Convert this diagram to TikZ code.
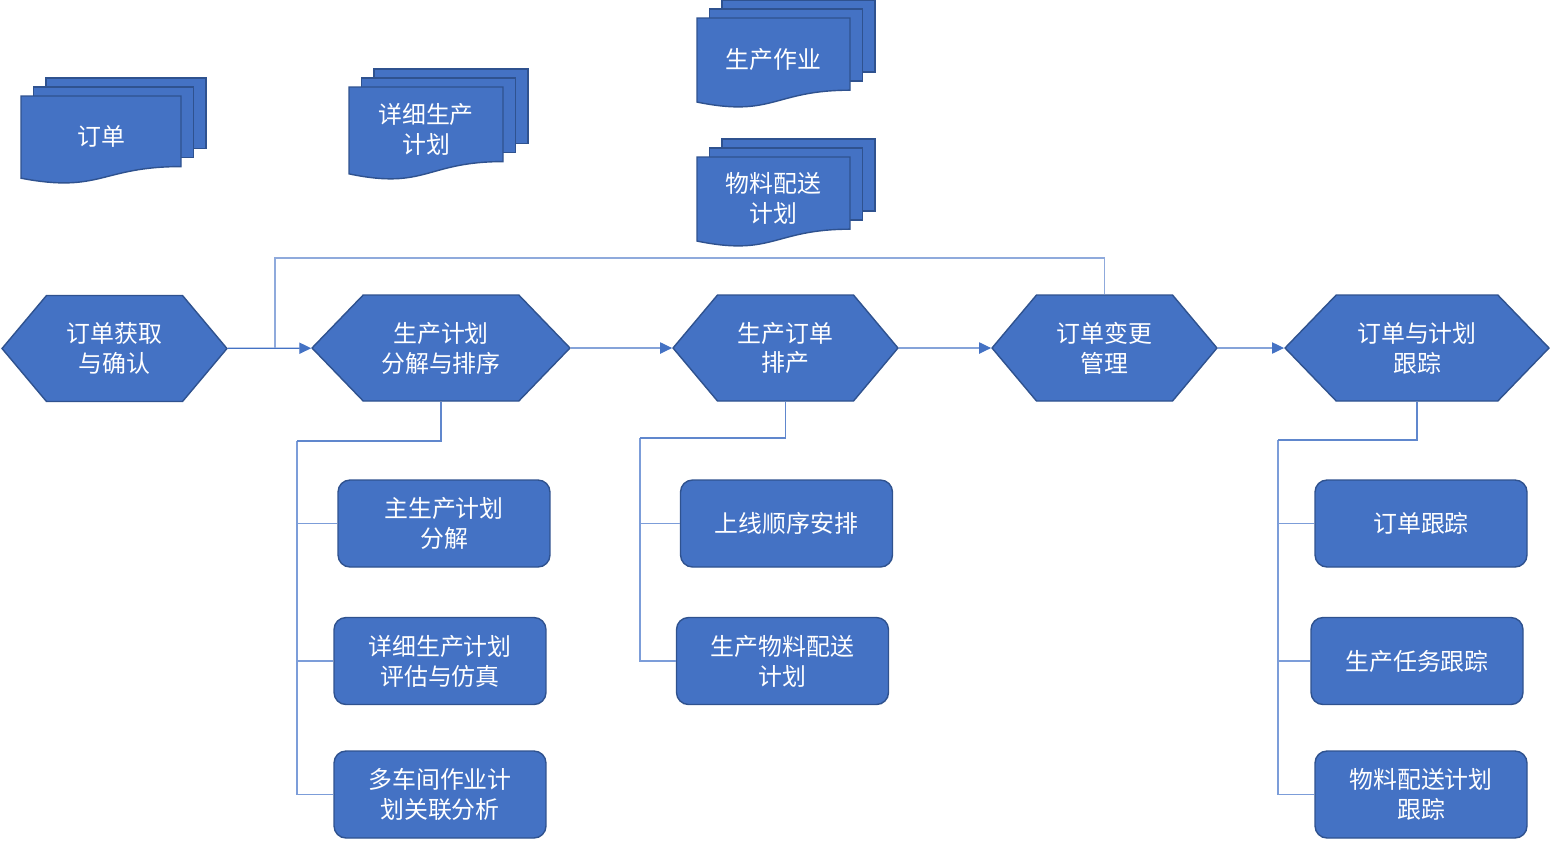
\documentclass[tikz,border=0pt]{standalone}
\usepackage{fontspec}
\setmainfont{Noto Sans CJK SC}
\usetikzlibrary{shapes.symbols,arrows.meta}

\definecolor{boxfill}{HTML}{4472C4}
\definecolor{boxline}{HTML}{2F528F}
\definecolor{treeblue}{HTML}{7C9DD9}
\definecolor{fbblue}{HTML}{8FAADC}

\tikzset{
  txt/.style={text=white, align=center, font=\fontsize{13.6pt}{17pt}\selectfont},
  hexa/.style={signal, signal to=west and east, signal pointer angle=100, draw=boxline, fill=boxfill, line width=0.8pt, txt, inner sep=0pt, minimum width=4.5cm, minimum height=2.12cm},
  task/.style={rectangle, rounded corners=0.24cm, draw=boxline, fill=boxfill, line width=0.8pt, txt, minimum width=4.24cm, minimum height=1.74cm},
  doc/.style={draw=boxline, fill=boxfill, line width=0.8pt},
  flow/.style={draw=boxfill, line width=0.7pt, -{Triangle[length=6.8pt,width=6.4pt]}},
  tree/.style={draw=treeblue, line width=0.8pt},
  treetop/.style={draw=boxfill!85!white, line width=0.8pt},
}

% stacked document: x, y, width, height, name, text
\newcommand{\docstack}[6]{
  \foreach \k in {2,1}{
    \draw[doc] ({#1+12.5*\k},{#2-9*\k}) rectangle ++(#3,{0.8*#4});
  }
  \draw[doc] (#1,#2) -- ++(#3,0) -- ++(0,{0.802*#4})
    .. controls ({#1+#3/2},{#2+0.802*#4}) and ({#1+#3/2},{#2+1.108*#4}) .. (#1,{#2+0.934*#4}) -- cycle;
  \node[txt] (#5) at ({#1+#3/2},{#2+0.46*#4}) {#6};
}

\begin{document}
\begin{tikzpicture}[x=0.02cm, y=-0.02cm]
  \useasboundingbox (0,0) rectangle (1551,840);

  % documents
  \docstack{21}{96}{160}{88}{ord}{订单}
  \docstack{349}{87}{154}{93}{dplan}{详细生产\\计划}
  \docstack{697}{18}{153}{90}{prodjob}{生产作业}
  \docstack{697}{157}{153}{90}{matplan}{物料配送\\计划}

  % main process
  \node[hexa] (p1) at (114.5,348.5) {订单获取\\与确认};
  \node[hexa, signal pointer angle=92, minimum width=5.16cm] (p2) at (441,348) {生产计划\\分解与排序};
  \node[hexa] (p3) at (785.5,348) {生产订单\\排产};
  \node[hexa] (p4) at (1104.5,348) {订单变更\\管理};
  \node[hexa, signal pointer angle=92, minimum width=5.28cm] (p5) at (1417,348) {订单与计划\\跟踪};

  \draw[flow] (p1) -- (p2);
  \draw[flow] (p2) -- (p3);
  \draw[flow] (p3) -- (p4);
  \draw[flow] (p4) -- (p5);

  \coordinate (fb) at (275,258);
  \draw[draw=fbblue, line width=0.8pt] (p4.north) |- (fb) -- (fb |- p2.west);

  % sub tasks
  \node[task] (c11) at (444,523.5) {主生产计划\\分解};
  \node[task] (c12) at (440,661) {详细生产计划\\评估与仿真};
  \node[task] (c13) at (440,794.5) {多车间作业计\\划关联分析};

  \node[task] (c21) at (786.5,523.5) {上线顺序安排};
  \node[task] (c22) at (782.5,661) {生产物料配送\\计划};

  \node[task] (c31) at (1421,523.5) {订单跟踪};
  \node[task] (c32) at (1417,661) {生产任务跟踪};
  \node[task] (c33) at (1421,794.5) {物料配送计划\\跟踪};

  \coordinate (t1) at (297,441);
  \coordinate (t2) at (640,438);
  \coordinate (t3) at (1278,440);

  \draw[tree] (t1) |- (c13.west);
  \draw[treetop] (p2.south) |- (t1);
  \draw[tree] (t1 |- c11.west) -- (c11.west);
  \draw[tree] (t1 |- c12.west) -- (c12.west);

  \draw[tree] (t2) |- (c22.west);
  \draw[treetop] (p3.south) |- (t2);
  \draw[tree] (t2 |- c21.west) -- (c21.west);

  \draw[tree] (t3) |- (c33.west);
  \draw[treetop] (p5.south) |- (t3);
  \draw[tree] (t3 |- c31.west) -- (c31.west);
  \draw[tree] (t3 |- c32.west) -- (c32.west);
\end{tikzpicture}
\end{document}
